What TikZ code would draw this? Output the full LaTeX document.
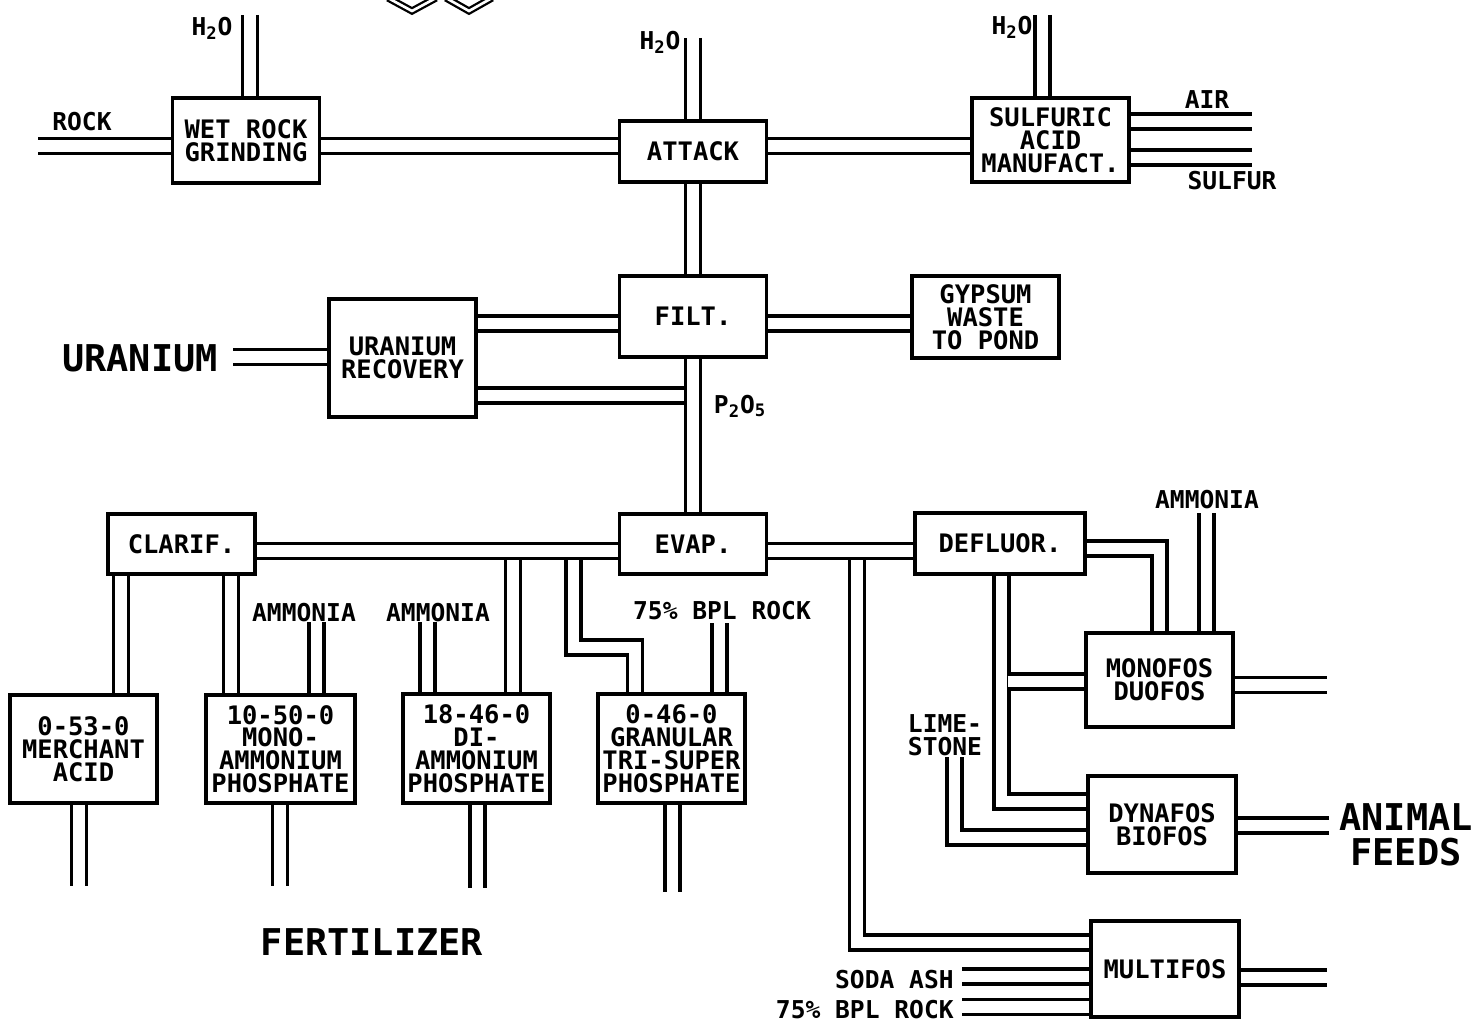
\documentclass[tikz,border=0pt]{standalone}
\usepackage{fontspec}
\newfontfamily\plotfont{DejaVu Sans Mono}
\usepackage{tikz}
\usetikzlibrary{backgrounds}

\begin{document}
\begin{tikzpicture}[
  x=0.02cm, y=-0.02cm,
  unit/.style={draw, line width=2.1pt, fill=white, inner sep=0pt,
    minimum width=2.94cm, minimum height=1.2cm, align=center,
    font=\plotfont\bfseries\fontsize{14.5}{13}\selectfont},
  pipe/.style={line width=1.8pt, double distance=6.7pt, line join=miter},
  tag/.style={inner sep=0pt, align=left,
    font=\plotfont\bfseries\fontsize{14}{13}\selectfont},
  bigtag/.style={inner sep=0pt, align=center,
    font=\plotfont\bfseries\fontsize{21}{20}\selectfont}
]

  \useasboundingbox (0,0) rectangle (1474,1024);

  % logo fragment at the top edge
  \draw[line width=1.3pt, double distance=1.5pt]
    (388,-2) -- (412,11) -- (436,-2);
  \draw[line width=1.3pt, double distance=1.5pt]
    (446,-2) -- (469,11) -- (492,-2);

  % acid plant
  \node[unit, minimum height=1.70cm] (wrg)    at (246,140.5) {WET ROCK\\GRINDING};
  \node[unit, minimum height=1.22cm] (attack) at (693,151.5)   {ATTACK};
  \node[unit, minimum width=3.14cm, minimum height=1.68cm]
    (sulf) at (1050.5,140) {SULFURIC\\ACID\\MANUFACT.};
  \node[unit, minimum height=1.62cm] (filt)   at (693,316.5)   {FILT.};
  \node[unit, minimum height=2.36cm] (urec)   at (402.5,358)   {URANIUM\\RECOVERY};
  \node[unit, minimum height=1.64cm] (gyp)    at (985.5,317)   {GYPSUM\\WASTE\\TO POND};

  % concentration
  \node[unit] (clarif) at (181.5,544) {CLARIF.};
  \node[unit] (evap)   at (693,544)   {EVAP.};
  \node[unit, minimum width=3.40cm, minimum height=1.22cm]
    (defl) at (1000,543.5) {DEFLUOR.};

  % fertilizer products
  \node[unit, minimum height=2.16cm] (merch) at (83.5,749)  {0-53-0\\MERCHANT\\ACID};
  \node[unit, minimum width=2.98cm, minimum height=2.16cm]
    (map) at (280.5,749) {10-50-0\\MONO-\\AMMONIUM\\PHOSPHATE};
  \node[unit, minimum height=2.18cm] (dap) at (476.5,748.5) {18-46-0\\DI-\\AMMONIUM\\PHOSPHATE};
  \node[unit, minimum height=2.18cm] (tsp) at (671.5,748.5) {0-46-0\\GRANULAR\\TRI-SUPER\\PHOSPHATE};

  % feed products
  \node[unit, minimum height=1.88cm] (mono)  at (1159.5,680) {MONOFOS\\DUOFOS};
  \node[unit, minimum width=2.96cm, minimum height=1.94cm]
    (dyna) at (1162,824.5) {DYNAFOS\\BIOFOS};
  \node[unit, minimum width=2.96cm, minimum height=1.92cm]
    (multi) at (1165,969) {MULTIFOS};

  % labels
  \node[tag] (rock)   at (82,122)    {ROCK};
  \node[tag] (h2oA)   at (212,28)    {H\textsubscript{2}O};
  \node[tag] (h2oB)   at (660,42)    {H\textsubscript{2}O};
  \node[tag] (h2oC)   at (1012,27)   {H\textsubscript{2}O};
  \node[tag] (air)    at (1207,100)  {AIR};
  \node[tag] (sulfur) at (1232,181)  {SULFUR};
  \node[tag] (p2o5)   at (740,406)   {P\textsubscript{2}O\textsubscript{5}};
  \node[tag] (nh3A)   at (304,613)   {AMMONIA};
  \node[tag] (nh3B)   at (438,613)   {AMMONIA};
  \node[tag] (nh3C)   at (1207,500)  {AMMONIA};
  \node[tag] (bplA)   at (722,611)   {75\% BPL ROCK};
  \node[tag] (lime)   at (945,735)   {LIME-\\STONE};
  \node[tag, anchor=east] (soda) at (954,980)  {SODA ASH};
  \node[tag, anchor=east] (bplB) at (954,1010) {75\% BPL ROCK};
  \node[bigtag] (uran)  at (140,358)  {URANIUM};
  \node[bigtag] (fert)  at (372,942)  {FERTILIZER};
  \node[bigtag] (feeds) at (1406,835) {ANIMAL\\FEEDS};

  % free ends and bends
  \coordinate (rockin)  at (38,146);
  \coordinate (h2oa)    at (250,15);
  \coordinate (h2ob)    at (693,38);
  \coordinate (h2oc)    at (1042.5,15);
  \coordinate (airout)  at (1252,121.5);
  \coordinate (sulfin)  at (1252,157.5);
  \coordinate (uf)      at (0,323.5);
  \coordinate (uin)     at (233,357);
  \coordinate (ujoin)   at (684,395.5);
  \coordinate (bus)     at (0,551);
  \coordinate (cmcol)   at (121,600);
  \coordinate (cpcol)   at (231,600);
  \coordinate (merchout) at (79,886);
  \coordinate (mapout)  at (280,886);
  \coordinate (dapout)  at (477.5,888);
  \coordinate (tspout)  at (672.5,892);
  \coordinate (nh3a)    at (316.5,622);
  \coordinate (nh3b)    at (427.5,622);
  \coordinate (nh3c)    at (1206.5,513);
  \coordinate (bplin)   at (719.5,623);
  \coordinate (daptap)  at (513,560);
  \coordinate (tsptap)  at (573.5,560);
  \coordinate (tspbend) at (635,647.5);
  \coordinate (multap)  at (857,560);
  \coordinate (mulbend) at (857,942.5);
  \coordinate (sodain)  at (962,976.5);
  \coordinate (bplmin)  at (962,1007);
  \coordinate (multout) at (1327,977.5);
  \coordinate (monobend) at (1159.5,548.5);
  \coordinate (monoout) at (1327,685);
  \coordinate (dyncol)  at (1001.5,801.5);
  \coordinate (dynbr)   at (1007.5,681.5);
  \coordinate (limein)  at (954.5,757);
  \coordinate (limebend) at (954.5,837.5);
  \coordinate (dynaout) at (1329,825.5);

  \begin{scope}[on background layer]
    % top line
    \draw[pipe] (rockin) -- (rockin -| wrg.west);
    \draw[pipe] (wrg.east |- rockin) -- (attack.west |- rockin);
    \draw[pipe] (attack.east |- rockin) -- (sulf.west |- rockin);
    \draw[pipe] (h2oa) -- (h2oa |- wrg.north);
    \draw[pipe] (h2ob) -- (attack.north);
    \draw[pipe] (h2oc) -- (h2oc |- sulf.north);
    \draw[pipe] (sulf.east |- airout) -- (airout);
    \draw[pipe] (sulf.east |- sulfin) -- (sulfin);

    % filter and uranium
    \draw[pipe] (attack.south) -- (filt.north);
    \draw[pipe] (filt.south) -- (evap.north);
    \draw[pipe] (urec.east |- uf) -- (filt.west |- uf);
    \draw[pipe] (filt.east |- uf) -- (gyp.west |- uf);
    \draw[pipe] (uin) -- (uin -| urec.west);
    \draw[pipe] (urec.east |- ujoin) -- (ujoin);

    % lower bus
    \draw[pipe] (clarif.east |- bus) -- (evap.west |- bus);
    \draw[pipe] (evap.east |- bus) -- (defl.west |- bus);

    % fertilizer side
    \draw[pipe] (clarif.south -| cmcol) -- (merch.north -| cmcol);
    \draw[pipe] (clarif.south -| cpcol) -- (map.north -| cpcol);
    \draw[pipe] (nh3a) -- (nh3a |- map.north);
    \draw[pipe] (nh3b) -- (nh3b |- dap.north);
    \draw[pipe] (daptap) -- (daptap |- dap.north);
    \draw[pipe] (tsptap) |- (tspbend) -- (tspbend |- tsp.north);
    \draw[pipe] (bplin) -- (bplin |- tsp.north);
    \draw[pipe] (merch.south -| merchout) -- (merchout);
    \draw[pipe] (map.south -| mapout) -- (mapout);
    \draw[pipe] (dap.south -| dapout) -- (dapout);
    \draw[pipe] (tsp.south -| tspout) -- (tspout);

    % feed side
    \draw[pipe] (defl.east |- monobend) -- (monobend) -- (monobend |- mono.north);
    \draw[pipe] (nh3c) -- (nh3c |- mono.north);
    \draw[pipe] (mono.east |- monoout) -- (monoout);
    \draw[pipe] (defl.south -| dyncol) -- (dyncol) -- (dyncol -| dyna.west);
    \draw[pipe] (dynbr) -- (dynbr -| mono.west);
    \draw[pipe] (limein) -- (limebend) -- (limebend -| dyna.west);
    \draw[pipe] (dyna.east |- dynaout) -- (dynaout);
    \draw[pipe] (multap) -- (mulbend) -- (mulbend -| multi.west);
    \draw[pipe] (sodain) -- (sodain -| multi.west);
    \draw[pipe] (bplmin) -- (bplmin -| multi.west);
    \draw[pipe] (multi.east |- multout) -- (multout);
  \end{scope}

\end{tikzpicture}
\end{document}
